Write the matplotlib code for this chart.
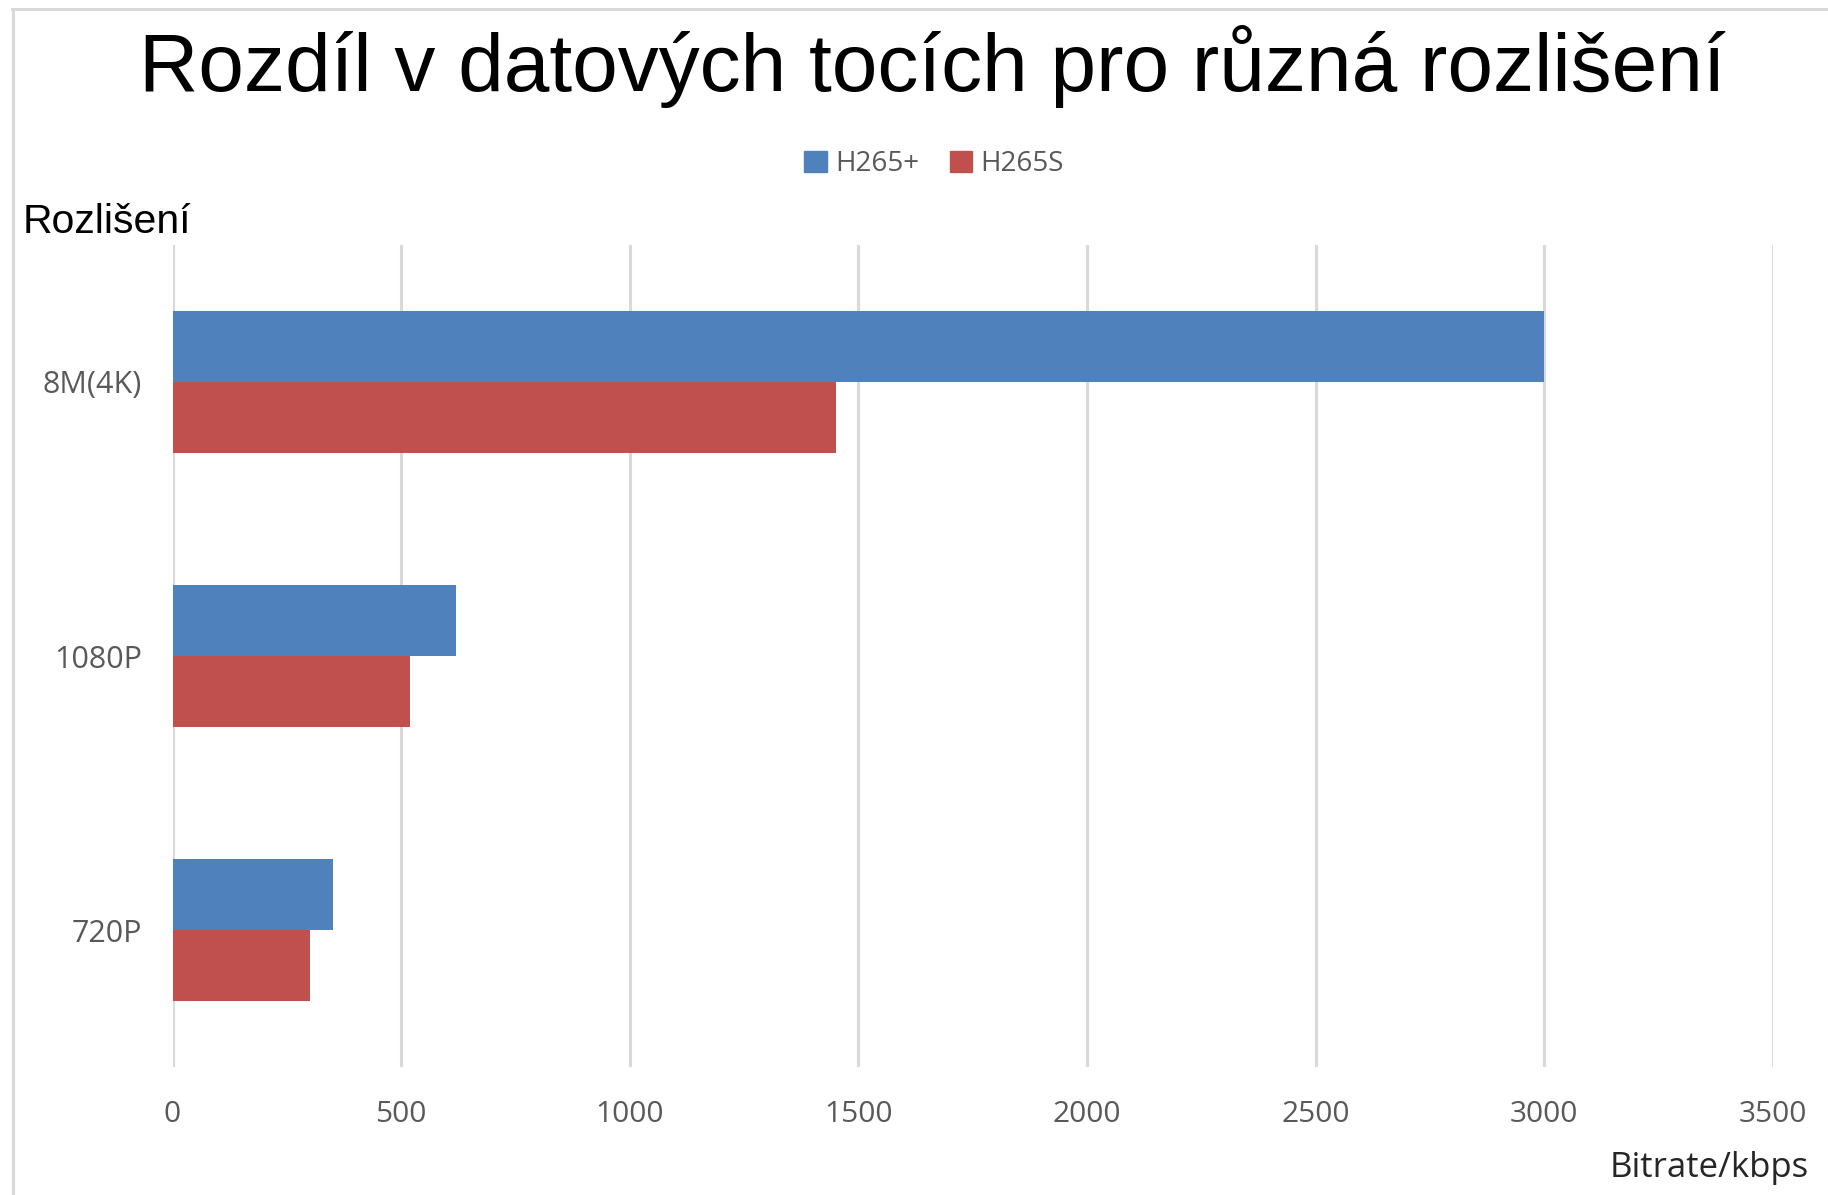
import matplotlib.pyplot as plt
import matplotlib.patches as mpatches
from matplotlib.lines import Line2D
import numpy as np

categories = ['8M(4K)', '1080P', '720P']
h265_plus = [3000, 620, 350]
h265_s = [1450, 520, 300]
series_names = ['H265+', 'H265S']
xticks = [0, 500, 1000, 1500, 2000, 2500, 3000, 3500]

blue = '#4F81BD'
red = '#C0504D'
grid_col = '#D9D9D9'
tick_col = '#595959'

W, H = 1828, 1195
fig = plt.figure(figsize=(W / 100, H / 100), dpi=100)
fig.patch.set_facecolor('white')

# axes box in pixel terms
left, right, top, bottom = 172.5, 1773, 245, 1067
ax = fig.add_axes([left / W, 1 - bottom / H, (right - left) / W, (bottom - top) / H])

y = np.arange(len(categories))
bh = 0.26
ax.barh(y - bh / 2, h265_plus, height=bh, color=blue, label=series_names[0], zorder=3)
ax.barh(y + bh / 2, h265_s, height=bh, color=red, label=series_names[1], zorder=3)

ax.set_xlim(0, 3500)
ax.set_ylim(2.5, -0.5)
ax.set_xticks(xticks)
ax.set_yticks(y)
ax.set_yticklabels(categories)
ax.xaxis.grid(True, color=grid_col, lw=2.2, zorder=0)
ax.set_axisbelow(True)
for s in ax.spines.values():
    s.set_visible(False)
ax.tick_params(axis='x', length=0, colors=tick_col, labelsize=21.5, pad=24)
ax.tick_params(axis='y', length=0, colors=tick_col, labelsize=22, pad=22)
for lab in ax.get_xticklabels() + ax.get_yticklabels():
    lab.set_family('Open Sans')

# title and axis captions
fig.text(932 / W, 1 - 91 / H, 'Rozdíl v datových tocích pro různá rozlišení',
         ha='center', va='baseline', fontsize=59, family='Liberation Sans', color='black')
fig.text(23 / W, 1 - 233 / H, 'Rozlišení', ha='left', va='baseline',
         fontsize=29.5, family='Liberation Sans', color='black')
fig.text(1809 / W, 1 - 1177 / H, 'Bitrate/kbps', ha='right', va='baseline',
         fontsize=25, family='Open Sans', color='#262626')

handles = [mpatches.Patch(color=blue), mpatches.Patch(color=red)]
fig.legend(handles, series_names, loc='center', bbox_to_anchor=(934 / W, 1 - 164 / H),
           ncol=2, frameon=False, handlelength=0.8, handleheight=0.8,
           handletextpad=0.3, columnspacing=1.1,
           prop={'family': 'Open Sans', 'size': 20}, labelcolor=tick_col)

# thin light frame at top and left edge of the picture
fig.add_artist(Line2D([13 / W, 13 / W], [0, 1 - 9 / H], transform=fig.transFigure,
                      color=grid_col, lw=2.2))
fig.add_artist(Line2D([12 / W, 1], [1 - 9 / H, 1 - 9 / H], transform=fig.transFigure,
                      color=grid_col, lw=2.2))

fig.savefig('out.png', dpi=100, facecolor='white')
